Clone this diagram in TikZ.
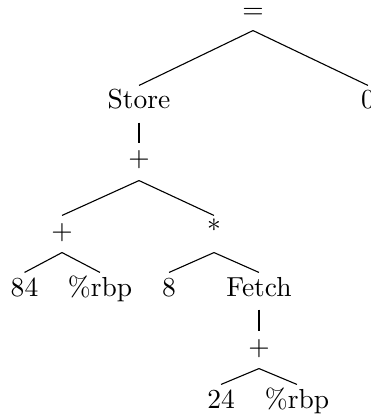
\documentclass[tikz,border=0pt]{standalone}
\begin{document}
\begin{tikzpicture}[x=0.3636pt,y=-0.3636pt,
  tn/.style={anchor=base, inner xsep=0pt, inner ysep=2pt, text height=6.36pt, text depth=2.73pt},
  edge/.style={line width=0.4pt}]
\useasboundingbox (0,0) rectangle (370,415);
\node[tn, inner ysep=1.27pt] (eq) at (253,19) {=};
\node[tn] (store) at (139,109) {Store};
\node[tn] (zero) at (368,109) {0};
\node[tn] (plusA) at (139,167) {+};
\node[tn] (plusB) at (62,239) {+};
\node[tn] (star) at (214,239) {*};
\node[tn] (n84) at (24.5,296) {84};
\node[tn] (rbpA) at (100,296) {\%rbp};
\node[tn] (n8) at (169,296) {8};
\node[tn] (fetch) at (259,296) {Fetch};
\node[tn] (plusC) at (259,355) {+};
\node[tn] (n24) at (221,408) {24};
\node[tn] (rbpB) at (297,408) {\%rbp};
\draw[edge] (eq.south) -- (store.north);
\draw[edge] (eq.south) -- (zero.north);
\draw[edge] (store.south) -- (plusA.north);
\draw[edge] (plusA.south) -- (plusB.north);
\draw[edge] (plusA.south) -- (star.north);
\draw[edge] (plusB.south) -- (n84.north);
\draw[edge] (plusB.south) -- (rbpA.north);
\draw[edge] (star.south) -- (n8.north);
\draw[edge] (star.south) -- (fetch.north);
\draw[edge] (fetch.south) -- (plusC.north);
\draw[edge] (plusC.south) -- (n24.north);
\draw[edge] (plusC.south) -- (rbpB.north);
\end{tikzpicture}
\end{document}
